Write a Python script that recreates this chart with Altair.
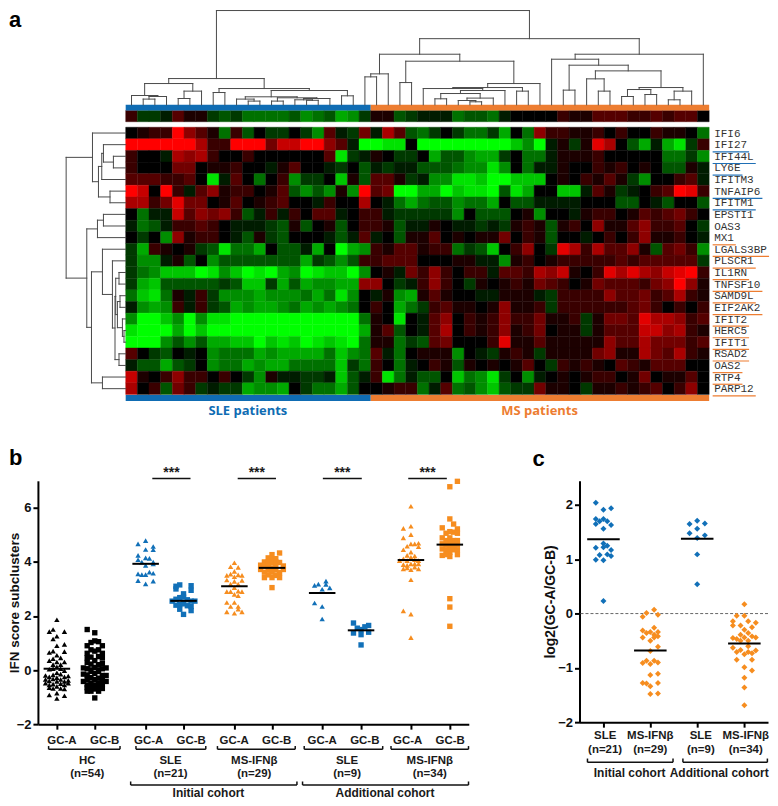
import altair as alt
import pandas as pd

GENES = ["IFI6","IFI27","IFI44L","LY6E","IFITM3","TNFAIP6","IFITM1","EPSTI1","OAS3","MX1","LGALS3BP","PLSCR1",
         "IL1RN","TNFSF10","SAMD9L","EIF2AK2","IFIT2","HERC5","IFIT1","RSAD2","OAS2","RTP4","PARP12"]
UNDERLINE = ["","b","b","b","","b","b","","","o","o","o","o","o","o","o","o","o","o","o","o","o","o"]

SCORE_ROW = [2,-2,-2,-1,3,1,1,-2,-3,-2,-4,-4,-4,-4,-3,-5,-4,-3,-6,-5,-2,1,1,-3,-2,
             -1,-1,-1,-4,-3,-3,-4,-1,0,0,0,0,2,1,1,3,3,3,2,2,3,2,3,3,0]
HEAT = [
 [0,1,2,2,9,5,3,1,-4,2,-3,0,-2,-2,0,-2,-5,3,-1,-2,4,-1,6,3,-3,-4,-2,0,-2,-4,-4,-2,-6,0,-4,5,2,2,1,1,2,0,2,0,0,2,1,1,0,-4],
 [9,9,9,9,9,9,6,2,2,9,9,9,4,7,7,9,9,5,3,-1,-9,-9,-8,-8,0,-9,-9,-9,-9,-9,-9,-9,-9,-7,-5,-9,-1,1,-2,1,8,6,0,-3,-6,-1,-6,-8,-2,2],
 [2,0,0,-1,6,5,6,2,0,0,2,0,0,0,0,0,0,3,-8,-2,-1,1,0,-2,-2,0,-6,-3,-3,-5,-6,-6,-2,0,-4,-4,-1,1,1,1,2,0,0,0,0,0,-4,-4,-2,-5],
 [2,0,0,0,4,4,0,1,1,2,0,0,-1,1,3,0,0,-1,-2,0,-3,-1,-2,-1,-1,-3,-3,-3,-4,-5,-5,-8,-5,0,-4,-1,-1,1,0,0,2,1,2,0,1,0,-3,-3,1,-1],
 [3,3,3,2,2,3,0,-8,-1,3,0,-4,0,2,-5,-2,-2,0,-7,1,-3,3,3,1,-2,-1,-5,-5,-8,-8,-7,-9,-9,-7,-7,-7,0,1,0,2,1,3,1,-2,-5,0,0,2,3,-1],
 [9,7,0,9,2,-1,3,5,1,2,2,0,1,3,-3,-5,-3,-5,1,-5,9,3,4,-9,-9,-6,-6,-9,-7,-8,-8,-9,-3,-8,-6,0,0,-7,-7,-1,3,1,-2,-1,0,2,3,9,8,2],
 [6,6,2,4,8,4,4,0,1,3,0,1,2,3,0,0,-1,2,0,0,6,0,-1,-4,-6,-4,-3,-3,-5,-4,-4,-6,0,-3,-3,-1,-1,-1,-1,0,0,0,-3,-3,0,-1,-3,0,0,-3],
 [0,-4,-1,-1,7,3,5,4,5,2,-3,-1,2,-1,2,0,3,3,-1,0,2,2,-1,-2,-2,-2,-2,-2,-5,0,-3,-3,-3,0,1,-5,0,0,-1,1,2,2,0,1,3,2,3,4,2,0],
 [-1,-4,-3,-1,2,2,3,2,0,-1,-1,-1,-2,-3,1,-3,0,1,-3,0,2,2,1,-3,-1,-1,1,0,-1,-1,-2,-1,-2,1,2,1,-3,1,2,0,5,1,1,3,5,2,2,3,0,-2],
 [0,-2,0,-5,5,1,2,2,0,-1,-3,1,-2,-3,0,0,0,-1,-3,-1,3,-1,0,-3,1,1,3,0,1,0,1,1,4,0,2,1,-3,0,0,-1,0,2,0,2,5,1,1,2,0,-1],
 [-2,-6,2,1,0,1,-2,-3,-8,-4,-4,-6,0,-3,-3,-1,-6,0,-9,-6,-5,2,1,3,3,1,2,2,-4,-2,-3,-7,0,2,5,0,-2,8,6,2,6,3,3,5,1,-3,3,4,2,-5],
 [-2,-5,-5,-1,1,-3,0,-5,-3,-3,-3,-3,-3,-3,-3,-6,-2,-3,-5,-3,2,2,3,3,3,0,0,0,1,1,-1,-1,-5,1,2,0,1,2,2,2,2,2,3,2,3,3,3,3,3,-2],
 [-2,-4,-5,-7,-7,-7,-9,-8,-5,-7,-9,-8,-9,-6,-5,-9,-8,-7,-7,-9,-5,0,1,-1,4,2,5,2,0,2,2,-1,3,3,2,6,5,7,1,0,2,8,6,8,6,5,7,8,9,2],
 [-2,-6,-7,-3,-3,-3,-3,-3,-2,-3,-7,-7,-2,-6,-3,-6,-5,-5,-6,-6,5,5,0,-2,-1,2,5,2,0,-2,1,0,1,2,1,4,3,2,0,1,4,3,3,3,2,4,5,9,5,1],
 [-4,-7,-8,-4,1,-1,2,-2,-5,-5,-5,-6,-5,-5,-5,-4,-6,-4,-8,-5,0,-1,1,-5,-6,1,3,1,0,0,-1,-1,1,1,1,-1,-2,2,2,2,2,5,3,3,4,2,3,6,2,1],
 [-1,-5,-6,-5,2,-1,2,-2,-3,-6,-5,-6,-6,-5,-4,-6,-5,-6,-5,-4,0,2,0,-6,-4,-2,2,3,1,1,0,1,5,1,1,2,-2,2,2,2,2,2,2,3,4,2,0,2,0,2],
 [-5,-9,-9,-7,-5,-9,-5,-8,-8,-9,-9,-9,-9,-9,-9,-9,-9,-9,-9,-9,-4,1,0,-8,0,-1,3,5,0,2,1,2,5,2,2,4,1,1,2,-2,1,4,4,3,8,6,6,5,2,3],
 [-8,-9,-9,-9,-6,-9,-7,-9,-9,-9,-9,-9,-9,-9,-9,-9,-9,-9,-9,-9,-6,1,3,-3,0,-1,3,6,0,2,1,2,5,1,2,4,0,1,1,-2,1,3,3,3,7,7,5,6,2,1],
 [-9,-9,-9,-5,-3,-5,-3,-6,-6,-7,-7,-9,-7,-8,-7,-9,-8,-7,-8,-9,-4,1,1,-4,-2,-3,3,4,0,0,0,2,8,1,1,3,1,1,1,1,1,5,3,3,6,4,4,4,2,3],
 [3,0,-2,-3,0,-1,0,-5,-4,-4,-4,-6,-5,-6,-6,-6,-6,-4,-7,-5,-4,3,-1,-4,0,1,1,1,-5,0,-1,-2,1,2,1,-2,1,1,1,1,4,5,1,1,6,4,3,6,2,1],
 [-1,-3,-3,-6,-3,-2,0,-5,-4,-4,-6,-5,-6,-6,-4,-4,-4,-4,-7,-2,-4,2,0,-4,-1,0,2,1,-3,1,0,1,0,1,3,0,-2,2,1,2,1,0,3,2,1,3,3,3,0,0],
 [7,1,0,2,5,2,2,0,2,0,-2,-5,1,-1,-1,-2,-2,-1,-7,-3,-1,2,-8,-4,-1,-3,-3,0,-7,-4,-5,-8,-2,0,-5,-1,0,1,0,1,2,2,0,1,4,0,1,1,3,0],
 [6,0,2,-3,4,2,-2,-1,-2,-2,-6,-5,-5,-6,0,-2,-4,-4,-6,-3,0,0,1,2,2,-4,-1,3,-4,-3,-5,-7,-3,-2,-2,4,1,1,0,-2,1,1,2,1,2,3,0,2,5,0],
]

def N(h, l, r):
    return (h, l, r)

# column tree: merge heights over the leaf columns
TOP_LEFT = N(26.3,
    N(21.3, N(9.3, 0, N(8.3, N(5.7, 1, 2), 3)), N(13.7, N(6.3, 4, 5), 6)),
    N(16.3, N(12.3, 7, 8),
      N(14.3,
        N(8, N(5.7, 9, N(3.7, 10, 11)),
          N(7, N(3.7, 12, 13), N(6.3, N(5, 14, N(4.5, 15, 16)), 17))),
        N(9, 18, 19))))
TOP_MID = N(50.7, N(31, N(28, 20, 21), 22),
    N(43.7, N(22.3, 23, 24),
      N(21.3,
        N(17.3,
          N(16.3, 25, N(14.3, N(11.3, N(6, 26, 27), N(6.7, N(4.3, 28, N(3, 29, 30)), 31)), 32)),
          N(13.7, 33, 34)),
        35)))
TOP_RIGHT = N(50.7,
    N(45.7, 36,
      N(39.7, N(14.7, 37, 38),
        N(34, N(26, 39, N(13.7, 40, 41)),
          N(17.3, N(15.3, N(8.3, 42, 43), N(10.3, 44, 45)), N(13.7, N(5, 46, 47), 48))))),
    49)
TOP_TREE = N(94.5, TOP_LEFT, N(66.3, TOP_MID, TOP_RIGHT))

# row tree
SIDE_UPPER = N(33.3, 0, N(27.3, N(24, N(22.3, 1, N(12.3, 2, 3)), 4), N(15.7, 5, 6)))
SIDE_LOWER = N(39, N(28.3, N(22.3, 7, 8), 9),
    N(34.3,
      N(23.3, 10, N(13.3, 11,
        N(10.7,
          N(10, N(6.7, 12, 13), N(8.3, N(5.7, 14, 15), N(3.3, 16, N(1.7, 17, 18)))),
          N(6.7, 19, 20)))),
      N(23.3, 21, 22)))
SIDE_TREE = N(59.7, SIDE_UPPER, SIDE_LOWER)

# panel b: (beeswarm slot, score)
B_GROUPS = [
 ("HC", "GC-A", 0.5, 0.05,
  [0,-1,2,-2,0,-1,2,0,-1,-2,2,0,1,-1,-2,2,0,1,-1,0,-1,1,-2,2,-3,3,0,-1,1,-2,2,0,-3,3,-1,1,-2,2,0,-3,3,-1,1,-2,2,0,-1,1,-2,2,0,-2,2,0],
  [1.86,1.5,1.42,1.42,1.25,1.15,0.95,0.9,0.7,0.65,0.68,0.55,0.45,0.42,0.35,0.3,0.3,0.2,0.2,0.12,0.05,0.05,0.03,-0.02,-0.2,-0.22,-0.1,-0.18,-0.15,-0.25,-0.25,-0.28,-0.35,-0.38,-0.33,-0.35,-0.4,-0.42,-0.42,-0.48,-0.48,-0.52,-0.5,-0.55,-0.55,-0.6,-0.68,-0.68,-0.65,-0.7,-0.85,-0.92,-0.95,-1.05]),
 ("HC", "GC-B", 1.5, 0.07,
  [-2,0,-1,1,0,2,-2,-1,1,-2,0,2,-2,-1,1,2,0,-2,2,-1,1,-3,-2,0,2,3,-1,1,-3,-2,0,2,3,-1,1,-2,0,2,-3,3,-1,1,-2,0,2,-2,-1,1,2,0,-2,-1,1,0],
  [1.5,1.38,1.02,1.05,1.08,0.9,0.9,0.75,0.75,0.62,0.7,0.62,0.45,0.48,0.5,0.45,0.35,0.28,0.25,0.22,0.2,0.08,0.05,0.1,0.05,0.08,-0.05,-0.05,-0.15,-0.18,-0.12,-0.2,-0.2,-0.28,-0.3,-0.35,-0.35,-0.38,-0.42,-0.42,-0.48,-0.48,-0.55,-0.55,-0.55,-0.65,-0.62,-0.62,-0.68,-0.7,-0.78,-0.78,-0.78,-1.03]),
 ("SLE", "GC-A", 2.842, 3.93,
  [0,-2,2,0,2,-2,0,1,-2,2,-1,2,0,-2,-1,0,1,2,-2,2,0],
  [4.79,4.67,4.57,4.46,4.45,4.24,4.15,4.13,4.08,3.99,3.99,3.93,3.87,3.56,3.53,3.53,3.62,3.58,3.31,3.29,3.19]),
 ("SLE", "GC-B", 3.842, 2.56,
  [-2,-1,2,-2,2,0,-2,-1,0,1,2,-3,3,-2,-1,0,1,2,-1,2,0],
  [3.10,3.15,3.12,3.0,2.95,2.82,2.62,2.68,2.7,2.6,2.55,2.55,2.55,2.4,2.42,2.45,2.38,2.35,2.25,2.2,2.06]),
 ("MS", "GC-A", 5.184, 3.1,
  [0,-1,1,0,-2,-1,1,2,0,-2,2,0,-1,1,0,-2,-1,1,2,0,1,-2,0,-1,1,-2,2,0,1],
  [3.97,3.82,3.8,3.65,3.5,3.55,3.52,3.5,3.45,3.33,3.32,3.28,3.18,3.18,3.05,2.9,2.9,2.92,2.9,2.8,2.75,2.5,2.5,2.35,2.35,2.15,2.15,2.1,2.25]),
 ("MS", "GC-B", 6.176, 3.78,
  [2,0,-1,0,1,-2,-1,0,1,2,-3,-2,-1,1,3,0,-3,-1,1,3,-2,0,2,-1,1,-2,0,2,0],
  [4.33,4.27,4.15,4.12,4.12,4.0,4.0,3.98,4.0,3.98,3.88,3.85,3.85,3.85,3.85,3.78,3.72,3.7,3.7,3.72,3.62,3.62,3.6,3.52,3.5,3.42,3.42,3.42,3.05]),
 ("SLE", "GC-A", 7.5, 2.85,
  [-2,-1,1,1,2,0,-2,0,0],
  [3.13,3.18,3.29,3.17,3.04,2.99,2.48,2.35,1.89]),
 ("SLE", "GC-B", 8.526, 1.47,
  [-2,2,1,-1,0,-2,2,0,0],
  [1.74,1.65,1.6,1.55,1.5,1.37,1.4,1.31,0.93]),
 ("MS", "GC-A", 9.842, 4.07,
  [0,-2,0,-2,0,0,1,2,-1,2,-2,0,-1,1,-2,0,-1,1,2,-3,-2,0,1,-1,2,-2,0,2,-1,1,0,-2,0,0],
  [6.06,5.24,5.32,4.89,5.01,4.67,4.67,4.69,4.58,4.56,4.45,4.36,4.24,4.22,4.11,4.17,4.05,4.08,4.05,4.05,3.9,3.93,3.93,3.87,3.93,3.74,3.71,3.74,3.78,3.81,3.34,2.19,2.07,1.2]),
 ("MS", "GC-B", 10.868, 4.64,
  [2,0,0,1,-2,2,1,2,-1,0,-2,0,-1,1,2,-2,0,-1,1,2,0,-2,-1,1,2,0,-2,-1,0,2,0,0,0,1],
  [6.98,6.78,5.59,5.4,5.26,5.22,5.1,5.06,5.06,5.12,4.89,4.89,4.79,4.79,4.79,4.67,4.73,4.64,4.64,4.64,4.54,4.48,4.45,4.45,4.45,4.36,4.24,4.27,4.2,4.27,2.64,2.33,1.62,4.6]),
]

# panel c: (beeswarm slot, log2 ratio)
C_GROUPS = [
 ("SLE", 0.511, 1.37,
  [-2,2,0,-2,0,-1,1,-2,2,0,0,1,-2,0,2,-1,1,2,-2,0,0],
  [2.04,1.94,1.91,1.74,1.74,1.70,1.70,1.65,1.63,1.56,1.29,1.25,1.21,1.22,1.17,1.08,1.09,1.06,0.99,0.98,0.23]),
 ("MS", 1.511, -0.68,
  [1,-1,2,-2,-2,1,0,-1,2,1,2,-2,1,0,2,0,-1,1,-2,2,0,2,0,-2,-1,2,0,0,2],
  [0.07,0.01,-0.02,-0.06,-0.31,-0.26,-0.34,-0.36,-0.34,-0.39,-0.42,-0.44,-0.44,-0.5,-0.61,-0.69,-0.87,-0.87,-0.91,-0.9,-0.93,-1.11,-1.13,-1.28,-1.29,-1.28,-1.34,-1.48,-1.47]),
 ("SLE", 2.511, 1.38,
  [0,-2,2,0,-2,2,0,0,0],
  [1.71,1.65,1.66,1.56,1.48,1.44,1.39,1.09,0.54]),
 ("MS", 3.517, -0.55,
  [0,-2,0,-3,1,3,-3,-1,2,0,1,-1,2,-3,-2,0,3,-1,1,-3,-1,1,3,-2,2,0,-2,2,0,2,0,0,0,1],
  [0.17,-0.04,-0.04,-0.14,-0.14,-0.17,-0.22,-0.22,-0.25,-0.3,-0.36,-0.39,-0.42,-0.45,-0.47,-0.44,-0.44,-0.5,-0.5,-0.63,-0.67,-0.71,-0.68,-0.71,-0.73,-0.75,-0.85,-0.85,-0.99,-1.05,-1.18,-1.36,-1.69,-0.6]),
]

B_TICKS = [0.5,1.5,2.842,3.842,5.184,6.176,7.5,8.526,9.842,10.868]
B_TICK_LABELS = [(0.632,"GC-A"),(1.763,"GC-B"),(2.921,"GC-A"),(4.045,"GC-B"),(5.176,"GC-A"),(6.3,"GC-B"),(7.5,"GC-A"),(8.624,"GC-B"),(9.755,"GC-A"),(10.877,"GC-B")]
B_GROUP_LABELS = [(1.303,"HC","(n=54)"),(3.5,"SLE","(n=21)"),(5.71,"MS-IFNβ","(n=29)"),(8.158,"SLE","(n=9)"),(10.34,"MS-IFNβ","(n=34)")]
B_BRACKETS = [(0.282,2.166),(2.587,4.429),(4.737,6.789),(7.026,9.097),(9.316,11.361)]
B_COHORTS = [(2.447,6.834,4.5,"Initial cohort"),(6.982,11.361,9.158,"Additional cohort")]
B_SIG = [(3.018,4.026),(5.271,6.281),(7.518,8.545),(9.771,10.789)]
C_TICKS = [0.511,1.511,2.511,3.517]
C_LABELS = [(0.547,"SLE","(n=21)"),(1.511,"MS-IFNβ","(n=29)"),(2.589,"SLE","(n=9)"),(3.547,"MS-IFNβ","(n=34)")]
C_COHORTS = [(0.17,2.015,1.07,"Initial cohort"),(2.206,4.028,2.98,"Additional cohort")]

BLUE = "#1170b8"
ORANGE = "#f68d1f"
BAR_BLUE = "#0f6cb3"
BAR_ORANGE = "#ed7d31"
FONT = "Liberation Sans"

def walk(node, segs):
    if not isinstance(node, tuple):
        return node + 0.5, 0.0
    h, l, r = node
    pl, hl = walk(l, segs)
    pr, hr = walk(r, segs)
    segs += [(pl, hl, pl, h), (pr, hr, pr, h), (pl, h, pr, h)]
    return (pl + pr) / 2, h

ax = alt.Scale(domain=[-7.521, 55.128], nice=False, zero=False)
ay = alt.Scale(domain=[25.279, -10.086], nice=False, zero=False)
AX = alt.X("x:Q", scale=ax, axis=None)
AY = alt.Y("y:Q", scale=ay, axis=None)

def a_rules(rows, color, width):
    df = pd.DataFrame(rows, columns=["x", "y", "x2", "y2"])
    return alt.Chart(df).mark_rule(color=color, strokeWidth=width, strokeCap="square").encode(
        x=AX, y=AY, x2="x2:Q", y2="y2:Q")

cells = []
for r, row in enumerate(HEAT):
    for c, v in enumerate(row):
        cells.append(dict(x=c, x2=c + 1, y=r, y2=r + 1, v=v))
for c, v in enumerate(SCORE_ROW):
    cells.append(dict(x=c, x2=c + 1, y=-1.442, y2=-0.472, v=v))
heat_scale = alt.Scale(domain=[-9, 0, 9], range=["#00ff00", "#000000", "#ff0000"], interpolate="rgb")
heat = alt.Chart(pd.DataFrame(cells)).mark_rect(strokeWidth=0.4).encode(
    x=AX, x2="x2:Q", y=AY, y2="y2:Q",
    color=alt.Color("v:Q", scale=heat_scale, legend=None),
    stroke=alt.Color("v:Q", scale=heat_scale, legend=None))

bars = pd.DataFrame([
    dict(x=0, x2=21, y=-1.931, y2=-1.442, c=BAR_BLUE), dict(x=21, x2=50, y=-1.931, y2=-1.442, c=BAR_ORANGE),
    dict(x=0, x2=21, y=23.05, y2=23.56, c=BAR_BLUE), dict(x=21, x2=50, y=23.05, y2=23.56, c=BAR_ORANGE)])
bar_layer = alt.Chart(bars).mark_rect().encode(x=AX, x2="x2:Q", y=AY, y2="y2:Q", color=alt.Color("c:N", scale=None))

segs = []
walk(TOP_TREE, segs)
top_rows = [(p1, -1.931 - h1 / 11.65, p2, -1.931 - h2 / 11.65) for p1, h1, p2, h2 in segs]
segs = []
walk(SIDE_TREE, segs)
side_rows = [(-h1 / 11.7, p1, -h2 / 11.7, p2) for p1, h1, p2, h2 in segs]
dendro = a_rules(top_rows + side_rows, "#4a4a4a", 1)

gene_df = pd.DataFrame(dict(x=50.43, y=[i + 0.55 for i in range(len(GENES))], t=GENES))
gene_layer = alt.Chart(gene_df).mark_text(font="Liberation Mono", fontSize=11, align="left", baseline="middle", color="#333333").encode(
    x=AX, y=AY, text="t:N")
ub = [(50.35, i + 1.12, 50.35 + (len(g) * 6.67 + 2) / 11.7, i + 1.12) for i, (g, u) in enumerate(zip(GENES, UNDERLINE)) if u == "b"]
uo = [(50.35, i + 1.12, 50.35 + (len(g) * 6.67 + 2) / 11.7, i + 1.12) for i, (g, u) in enumerate(zip(GENES, UNDERLINE)) if u == "o"]
ul_b = a_rules(ub, "#1f6fb5", 1.2)
ul_o = a_rules(uo, "#ed7d31", 1.2)

pat = pd.DataFrame(dict(x=[10.47, 35.47], y=[24.39, 24.39], t=["SLE patients", "MS patients"], c=[BAR_BLUE, BAR_ORANGE]))
pat_layer = alt.Chart(pat).mark_text(font="Open Sans", fontWeight="bold", fontSize=13, baseline="middle").encode(
    x=AX, y=AY, text="t:N", color=alt.Color("c:N", scale=None))
a_letter = alt.Chart(pd.DataFrame(dict(x=[-10], y=[-9.2], t=["a"]))).mark_text(
    font=FONT, fontWeight="bold", fontSize=22, align="left", baseline="middle", color="black").encode(x=AX, y=AY, text="t:N")

panel_a = alt.layer(heat, bar_layer, dendro, ul_b, ul_o, gene_layer, pat_layer, a_letter).properties(width=733, height=412)

# ---------- shared helpers for panels b, c
def axis_common(values, **kw):
    return alt.Axis(values=values, grid=False, domainColor="black", domainWidth=2, tickColor="black", tickWidth=2,
                    tickSize=5, labelPadding=2, labelFont=FONT, labelFontWeight="bold", labelFontSize=13, labelColor="#111111",
                    titleFont=FONT, titleFontWeight="bold", titleColor="#111111", **kw)

shape_scale = alt.Scale(domain=["GC-A", "GC-B", "ratio"], range=["triangle-up", "square", "diamond"])
color_scale = alt.Scale(domain=["HC", "SLE", "MS"], range=["black", BLUE, ORANGE])

def layer_panel(points, medians, texts, rules, X, Y, med_half, pt_size):
    pts = alt.Chart(pd.DataFrame(points)).mark_point(filled=True, size=pt_size, opacity=1).encode(
        x=X, y=Y,
        shape=alt.Shape("m:N", scale=shape_scale, legend=None),
        color=alt.Color("g:N", scale=color_scale, legend=None))
    med = alt.Chart(pd.DataFrame(medians)).mark_rule(color="black", strokeWidth=2).encode(x=X, x2="x2:Q", y=Y)
    rl = alt.Chart(pd.DataFrame(rules, columns=["x", "y", "x2", "y2"])).mark_rule(color="#111111", strokeWidth=1.5).encode(
        x=X, x2="x2:Q", y=Y, y2="y2:Q")
    tx = alt.Chart(pd.DataFrame(texts)).mark_text(font=FONT, fontWeight="bold", baseline="middle", align="center", color="#1a1a1a").encode(
        x=X, y=Y, text="t:N", size=alt.Size("s:Q", scale=None, legend=None))
    return [rl, pts, med, tx]

# ---------- panel b
bX = alt.X("x:Q", scale=alt.Scale(domain=[0, 432 / 38], nice=False, zero=False),
           axis=axis_common(B_TICKS, labels=False, title=None))
bY = alt.Y("y:Q", scale=alt.Scale(domain=[-2, 7], nice=False, zero=False),
           axis=axis_common([-2, 0, 2, 4, 6], title="IFN score subclusters", titleX=-16, titleFontSize=13.5))
b_pts, b_med = [], []
for g, m, cx, med, slots, vals in B_GROUPS:
    for s, v in zip(slots, vals):
        b_pts.append(dict(x=cx + s * 0.1, y=v, g=g, m=m))
    half = 0.35
    b_med.append(dict(x=cx - half, x2=cx + half, y=med))
b_text, b_rules = [], []
for x, t in B_TICK_LABELS:
    b_text.append(dict(x=x, y=-2.63, t=t, s=11.5))
for x, t, n in B_GROUP_LABELS:
    b_text.append(dict(x=x, y=-3.35, t=t, s=11.5))
    b_text.append(dict(x=x, y=-3.85, t=n, s=11.5))
for x1, x2 in B_BRACKETS:
    b_rules += [(x1, -2.93, x2, -2.93), (x1, -2.93, x1, -2.81), (x2, -2.93, x2, -2.81)]
for x1, x2, xc, t in B_COHORTS:
    b_rules += [(x1, -4.25, x2, -4.25), (x1, -4.25, x1, -4.12), (x2, -4.25, x2, -4.12)]
    b_text.append(dict(x=xc, y=-4.53, t=t, s=12))
for x1, x2 in B_SIG:
    b_rules.append((x1, 7.085, x2, 7.085))
    b_text.append(dict(x=(x1 + x2) / 2, y=7.3, t="***", s=14))
b_layers = layer_panel(b_pts, b_med, b_text, b_rules, bX, bY, 0.35, 29)
b_letter = alt.Chart(pd.DataFrame(dict(x=[-0.763], y=[7.85], t=["b"]))).mark_text(
    font=FONT, fontWeight="bold", fontSize=22, align="left", baseline="middle", color="black").encode(x=bX, y=bY, text="t:N")
panel_b = alt.layer(*b_layers, b_letter).properties(width=432, height=244)

# ---------- panel c
cX = alt.X("x:Q", scale=alt.Scale(domain=[0, 189 / 47], nice=False, zero=False),
           axis=axis_common(C_TICKS, labels=False, title=None))
cY = alt.Y("y:Q", scale=alt.Scale(domain=[-2, 2.445], nice=False, zero=False),
           axis=axis_common([-2, -1, 0, 1, 2], title="log2(GC-A/GC-B)", titleX=-22, titleFontSize=14, format="d"))
c_pts, c_med = [], []
for g, cx, med, slots, vals in C_GROUPS:
    for s, v in zip(slots, vals):
        c_pts.append(dict(x=cx + s * 0.0815, y=v, g=g, m="ratio"))
    c_med.append(dict(x=cx - 0.347, x2=cx + 0.347, y=med))
c_text, c_rules = [], []
for x, t, n in C_LABELS:
    c_text.append(dict(x=x, y=-2.26, t=t, s=11.5))
    c_text.append(dict(x=x, y=-2.51, t=n, s=11.5))
for x1, x2, xc, t in C_COHORTS:
    c_rules += [(x1, -2.74, x2 - 0.02, -2.74), (x1, -2.74, x1, -2.67), (x2 - 0.02, -2.74, x2 - 0.02, -2.67)]
    c_text.append(dict(x=xc, y=-2.94, t=t, s=12))
c_layers = layer_panel(c_pts, c_med, c_text, c_rules, cX, cY, 0.347, 36)
zero_line = alt.Chart(pd.DataFrame(dict(y=[0.0]))).mark_rule(color="#666666", strokeWidth=1, strokeDash=[3, 2]).encode(y=cY)
c_letter = alt.Chart(pd.DataFrame(dict(x=[-1.0], y=[2.85], t=["c"]))).mark_text(
    font=FONT, fontWeight="bold", fontSize=22, align="left", baseline="middle", color="black").encode(x=cX, y=cY, text="t:N")
panel_c = alt.layer(zero_line, *c_layers, c_letter).properties(width=189, height=242)

row2 = alt.hconcat(panel_b, panel_c, spacing=111, bounds="flush")
chart = alt.vconcat(panel_a, row2, spacing=60, bounds="flush").properties(
    padding={"left": 0, "top": 0, "right": 0, "bottom": 0}).configure_view(stroke=None)
chart.save("out.html", embed_options={"renderer": "svg", "actions": False})
